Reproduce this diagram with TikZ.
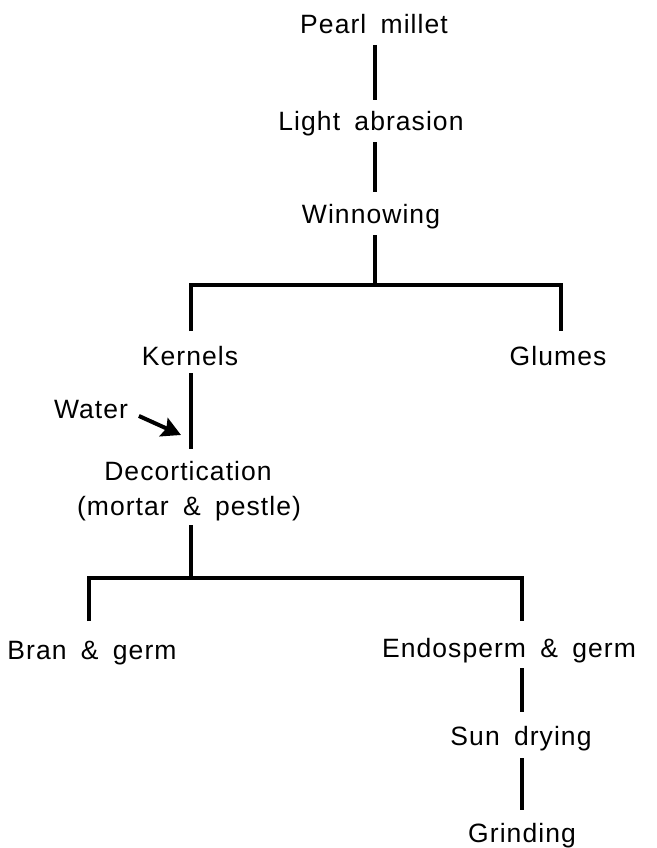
\documentclass[tikz,border=0pt]{standalone}
\usepackage{fontspec}
\setmainfont{Liberation Sans}[LetterSpace=4,WordSpace=1.7]
\usetikzlibrary{arrows.meta}
\begin{document}
\begin{tikzpicture}[x=1pt,y=-1pt,
  lbl/.style={inner sep=0pt, outer sep=0pt, text height=19pt, text depth=5pt,
    anchor=base, font=\fontsize{26.5}{30}\selectfont},
  link/.style={line width=4pt, line join=miter},
  vlink/.style={link, shorten <=6pt, shorten >=12pt}]
\useasboundingbox (0,0) rectangle (656,848);
\fill[white] (0,0) rectangle (656,848);

\node[lbl] (pm)    at (374,34)  {Pearl millet};
\node[lbl] (la)    at (371,131) {Light abrasion};
\node[lbl] (win)   at (371,223) {Winnowing};
\node[lbl] (ker)   at (190,365) {Kernels};
\node[lbl] (glu)   at (558,365) {Glumes};
\node[lbl] (water) at (91,418)  {Water};
\node[lbl] (dec)   at (188,480) {Decortication};
\node[lbl] (mp)    at (189,515) {(mortar \& pestle)};
\node[lbl] (bran)  at (92,659)  {Bran \& germ};
\node[lbl] (endo)  at (509,657) {Endosperm \& germ};
\node[lbl] (sun)   at (521,745) {Sun drying};
\node[lbl] (grind) at (522,842) {Grinding};

\coordinate (j1) at (375,285);
\coordinate (j2) at (191,578);
\coordinate (wt) at (181,435);
\coordinate (dl) at (89,578);
\coordinate (dr) at (522,578);

\draw[vlink] (pm.south -| j1) -- (la.north -| j1);
\draw[vlink] (la.south -| j1) -- (win.north -| j1);
\draw[link, shorten <=7pt] (win.south -| j1) -- (j1);
\draw[link] ([yshift=15pt]ker.north -| j2) |- (j1) -| ([xshift=3pt,yshift=15pt]glu.north);

\draw[link, shorten <=3pt, shorten >=12pt] (ker.south -| j2) -- (dec.north -| j2);
\draw[line width=4pt, shorten <=12pt, -{Stealth[length=19pt,width=20pt,inset=3pt]}] (water.east) -- (wt);

\draw[link, shorten <=5pt] (j2 |- mp.south) -- (j2);
\draw[link] ([yshift=19pt]bran.north -| dl) |- (j2) -| ([yshift=17pt]endo.north -| dr);

\draw[link, shorten <=6pt, shorten >=14pt] (endo.south -| dr) -- (sun.north -| dr);
\draw[link, shorten <=8pt, shorten >=13pt] (sun.south -| dr) -- (grind.north -| dr);
\end{tikzpicture}
\end{document}
